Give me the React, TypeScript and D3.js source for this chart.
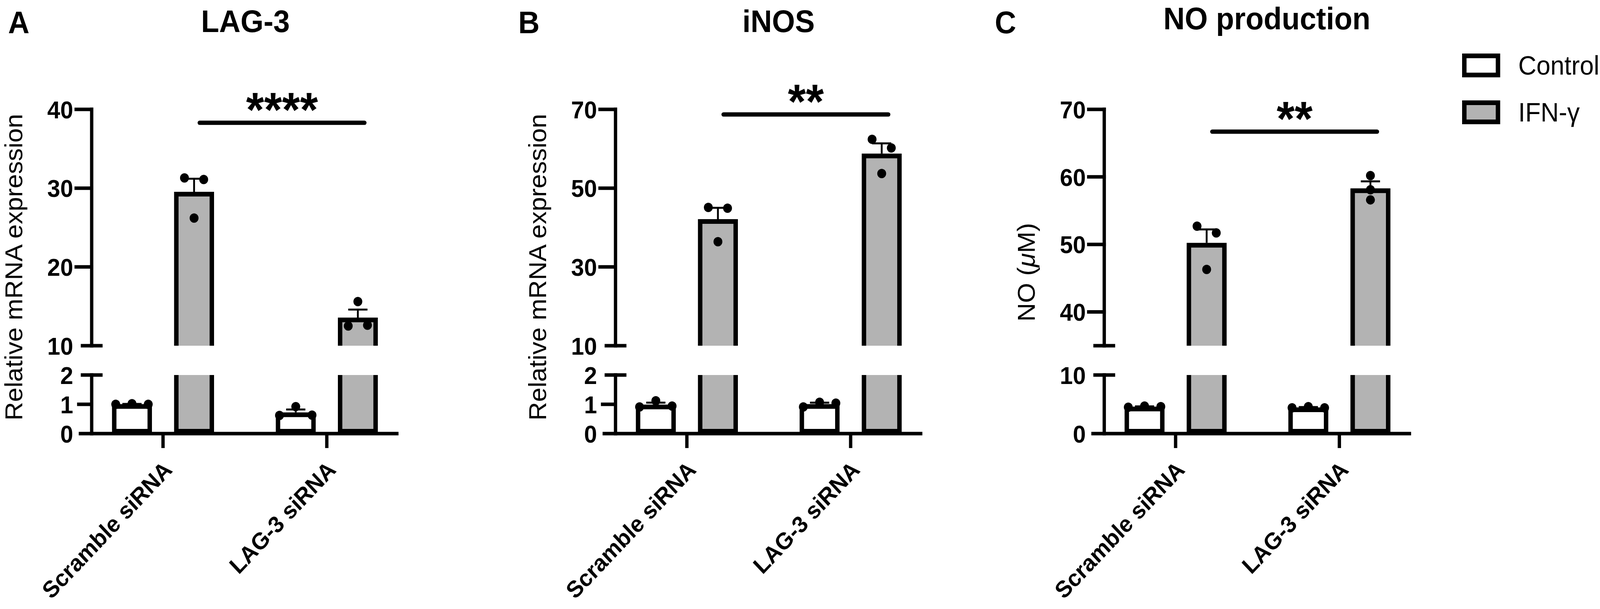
import React from 'react';
import * as d3 from 'd3';

const WIDTH = 4328;
const HEIGHT = 1559;
const FONT = '"Liberation Sans", Arial, Helvetica, sans-serif';

// rows of the layout (shared by all three panels)
const Y_ZERO = 1110;
const Y_LOW_TOP = 960;
const Y_UP_BOTTOM = 885;
const Y_UP_TOP = 280;

const BAR_STROKE = 12;
const AXIS_STROKE = 9;
const DOT_R = 12;

const GROUPS = ['Scramble siRNA', 'LAG-3 siRNA'];
const SERIES = ['Control', 'IFN-γ'];
const SERIES_FILL = ['#ffffff', '#b3b3b3'];

// panel A - LAG-3 (replicates, per group, per series)
const lagScrambleControl = [1.0, 1.02, 1.0];
const lagScrambleIfn = [31.3, 26.2, 31.1];
const lagSirnaControl = [0.62, 0.92, 0.63];
const lagSirnaIfn = [12.5, 15.6, 12.6];

// panel B - iNOS
const inosScrambleControl = [0.91, 1.12, 0.94];
const inosScrambleIfn = [45.1, 36.4, 44.9];
const inosSirnaControl = [0.91, 1.07, 1.04];
const inosSirnaIfn = [62.4, 53.7, 60.2];

// panel C - NO production
const noScrambleControl = [4.5, 4.7, 4.6];
const noScrambleIfn = [52.7, 46.3, 51.7];
const noSirnaControl = [4.4, 4.6, 4.4];
const noSirnaIfn = [60.2, 58.1, 56.6];

const PANEL_LETTERS = ['A', 'B', 'C'];
const TITLES = ['LAG-3', 'iNOS', 'NO production'];
const LOWER_DOMAINS = [[0, 2], [0, 2], [0, 10]];
const LOWER_TICKS = [[0, 1, 2], [0, 1, 2], [0, 10]];
const UPPER_DOMAINS = [[10, 40], [10, 70], [35, 70]];
const UPPER_TICKS = [[10, 20, 30, 40], [10, 30, 50, 70], [40, 50, 60, 70]];
const SIG_LEVELS = [38.3, 68.7, 66.7];
const SIG_LABELS = ['****', '**', '**'];

type Panel = {
  letter: string;
  title: string;
  yLabel: React.ReactNode;
  axisX: number;
  titleX: number;
  titleY: number;
  letterX: number;
  yLabelY: number;
  data: number[][][]; // [group][series][replicate]
  lower: number[];
  lowerTicks: number[];
  upper: number[];
  upperTicks: number[];
  sig: number;
  sigLabel: string;
};

const PANELS: Panel[] = [
  {
    letter: PANEL_LETTERS[0], title: TITLES[0], yLabel: 'Relative mRNA expression',
    axisX: 248, titleX: 664, titleY: 82, letterX: 22, yLabelY: 684,
    data: [[lagScrambleControl, lagScrambleIfn], [lagSirnaControl, lagSirnaIfn]],
    lower: LOWER_DOMAINS[0], lowerTicks: LOWER_TICKS[0], upper: UPPER_DOMAINS[0], upperTicks: UPPER_TICKS[0],
    sig: SIG_LEVELS[0], sigLabel: SIG_LABELS[0],
  },
  {
    letter: PANEL_LETTERS[1], title: TITLES[1], yLabel: 'Relative mRNA expression',
    axisX: 1665, titleX: 2106, titleY: 82, letterX: 1402, yLabelY: 684,
    data: [[inosScrambleControl, inosScrambleIfn], [inosSirnaControl, inosSirnaIfn]],
    lower: LOWER_DOMAINS[1], lowerTicks: LOWER_TICKS[1], upper: UPPER_DOMAINS[1], upperTicks: UPPER_TICKS[1],
    sig: SIG_LEVELS[1], sigLabel: SIG_LABELS[1],
  },
  {
    letter: PANEL_LETTERS[2], title: TITLES[2],
    yLabel: (<>NO (<tspan fontStyle="italic">μ</tspan>M)</>),
    axisX: 2987, titleX: 3427, titleY: 75, letterX: 2691, yLabelY: 697,
    data: [[noScrambleControl, noScrambleIfn], [noSirnaControl, noSirnaIfn]],
    lower: LOWER_DOMAINS[2], lowerTicks: LOWER_TICKS[2], upper: UPPER_DOMAINS[2], upperTicks: UPPER_TICKS[2],
    sig: SIG_LEVELS[2], sigLabel: SIG_LABELS[2],
  },
];

// spread points that would overlap vertically (GraphPad-like scatter)
function dodge(ys: number[]): number[] {
  const order = d3.range(ys.length).sort((a, b) => ys[a] - ys[b]);
  const clusters: number[][] = [];
  order.forEach((i, k) => {
    if (k > 0 && Math.abs(ys[i] - ys[order[k - 1]]) < DOT_R * 2) {
      clusters[clusters.length - 1].push(i);
    } else {
      clusters.push([i]);
    }
  });
  const offs = ys.map(() => 0);
  clusters.forEach((c) => {
    const members = c.slice().sort((a, b) => a - b);
    const gap = members.length === 2 ? 52 : 44;
    members.forEach((idx, j) => {
      offs[idx] = (j - (members.length - 1) / 2) * gap;
    });
  });
  return offs;
}

const PanelChart = ({ p }: { p: Panel }) => {
  const yLow = d3.scaleLinear().domain(p.lower).range([Y_ZERO, Y_LOW_TOP]);
  const yUp = d3.scaleLinear().domain(p.upper).range([Y_UP_BOTTOM, Y_UP_TOP]);
  const yOf = (v: number) => (v <= p.lower[1] ? yLow(v) : yUp(v));

  const xGroup = d3.scalePoint<string>().domain(GROUPS).range([p.axisX + 193, p.axisX + 636]);
  const xSeries = d3.scaleBand<string>().domain(SERIES).range([-138, 138]).paddingInner(0.357);
  const bw = xSeries.bandwidth();
  const h = BAR_STROKE / 2;

  const bars: React.ReactNode[] = [];
  const errs: React.ReactNode[] = [];
  const dots: React.ReactNode[] = [];

  GROUPS.forEach((g, gi) => {
    SERIES.forEach((s, si) => {
      const vals = p.data[gi][si];
      const mean = d3.mean(vals) as number;
      const sem = (d3.deviation(vals) as number) / Math.sqrt(vals.length);
      const x0 = (xGroup(g) as number) + (xSeries(s) as number);
      const cx = x0 + bw / 2;
      const key = `${gi}-${si}`;
      if (mean <= p.lower[1]) {
        const top = yLow(mean);
        bars.push(
          <rect key={key} x={x0 + h} y={top + h} width={bw - BAR_STROKE} height={Y_ZERO - top - BAR_STROKE}
            fill={SERIES_FILL[si]} stroke="#000" strokeWidth={BAR_STROKE} />
        );
      } else {
        const top = yUp(mean);
        bars.push(
          <g key={key}>
            <rect x={x0} y={Y_LOW_TOP} width={bw} height={Y_ZERO - Y_LOW_TOP} fill={SERIES_FILL[si]} />
            <path d={`M${x0 + h},${Y_LOW_TOP}V${Y_ZERO - h}H${x0 + bw - h}V${Y_LOW_TOP}`}
              fill="none" stroke="#000" strokeWidth={BAR_STROKE} />
            <rect x={x0} y={top} width={bw} height={Y_UP_BOTTOM - top} fill={SERIES_FILL[si]} />
            <path d={`M${x0 + h},${Y_UP_BOTTOM}V${top + h}H${x0 + bw - h}V${Y_UP_BOTTOM}`}
              fill="none" stroke="#000" strokeWidth={BAR_STROKE} />
          </g>
        );
      }
      const yTop = yOf(mean + sem);
      errs.push(
        <g key={key} stroke="#000" strokeWidth={5}>
          <line x1={cx} x2={cx} y1={yOf(mean)} y2={yTop} />
          <line x1={cx - 26} x2={cx + 26} y1={yTop} y2={yTop} />
        </g>
      );
      const ys = vals.map(yOf);
      const offs = dodge(ys);
      vals.forEach((v, k) => {
        dots.push(<circle key={`${key}-${k}`} cx={cx + offs[k]} cy={ys[k]} r={DOT_R} fill="#000" />);
      });
    });
  });

  const ifnX = GROUPS.map((g) => (xGroup(g) as number) + (xSeries(SERIES[1]) as number) + bw / 2);
  const sigY = yUp(p.sig);
  const sigX1 = ifnX[0] + 15;
  const sigX2 = ifnX[1] + 18;

  const ax = p.axisX;
  const xEnd = (xGroup(GROUPS[1]) as number) + 194;

  return (
    <g>
      <text x={p.letterX} y={85} fontFamily={FONT} fontWeight="bold" fontSize={80}>{p.letter}</text>
      <text x={p.titleX} y={p.titleY} fontFamily={FONT} fontWeight="bold" fontSize={80} textAnchor="middle">{p.title}</text>

      {bars}
      {errs}
      {dots}

      {/* broken y axis and the x axis */}
      <g stroke="#000" strokeWidth={AXIS_STROKE} strokeLinecap="square">
        <line x1={ax} x2={ax} y1={Y_UP_TOP} y2={Y_UP_BOTTOM} />
        <line x1={ax} x2={ax} y1={Y_LOW_TOP} y2={Y_ZERO} />
        <line x1={ax - 25} x2={ax + 25} y1={Y_UP_BOTTOM} y2={Y_UP_BOTTOM} />
        <line x1={ax - 25} x2={ax + 25} y1={Y_LOW_TOP} y2={Y_LOW_TOP} />
        {p.upperTicks.filter((t) => t !== p.upper[0]).map((t) => (
          <line key={`u${t}`} x1={ax - 42} x2={ax} y1={yUp(t)} y2={yUp(t)} />
        ))}
        {p.lowerTicks.filter((t) => t !== p.lower[1] && t !== p.lower[0]).map((t) => (
          <line key={`l${t}`} x1={ax - 35} x2={ax} y1={yLow(t)} y2={yLow(t)} />
        ))}
        <line x1={ax - 35} x2={xEnd} y1={Y_ZERO} y2={Y_ZERO} strokeLinecap="butt" />
        {GROUPS.map((g) => (
          <line key={g} x1={xGroup(g)} x2={xGroup(g)} y1={Y_ZERO} y2={Y_ZERO + 37} strokeLinecap="butt" />
        ))}
      </g>
      <g fontFamily={FONT} fontWeight="bold" fontSize={63} textAnchor="end">
        {p.upperTicks.map((t) => (
          <text key={`ut${t}`} x={ax - 50} y={yUp(t)} dy="0.36em">{t}</text>
        ))}
        {p.lowerTicks.map((t) => (
          <text key={`lt${t}`} x={ax - 50} y={yLow(t)} dy="0.36em">{t}</text>
        ))}
      </g>
      <text transform={`translate(${ax - 188},${p.yLabelY}) rotate(-90)`} fontFamily={FONT} fontSize={66} textAnchor="middle">
        {p.yLabel}
      </text>

      <g fontFamily={FONT} fontWeight="bold" fontSize={60} textAnchor="end">
        {GROUPS.map((g) => (
          <text key={g} transform={`translate(${(xGroup(g) as number) + 28},${Y_ZERO + 96}) rotate(-45)`}>{g}</text>
        ))}
      </g>

      <line x1={sigX1} x2={sigX2} y1={sigY} y2={sigY} stroke="#000" strokeWidth={11} strokeLinecap="round" />
      <text x={(sigX1 + sigX2) / 2} y={sigY + 10} fontFamily={FONT} fontWeight="bold" fontSize={125} textAnchor="middle">
        {p.sigLabel}
      </text>
    </g>
  );
};

const Legend = () => (
  <g fontFamily={FONT} fontSize={68}>
    {SERIES.map((s, i) => (
      <g key={s} transform={`translate(3955,${137 + i * 120})`}>
        <rect x={6} y={6} width={91} height={49} fill={SERIES_FILL[i]} stroke="#000" strokeWidth={12} />
        <text x={152} y={54}>{s}</text>
      </g>
    ))}
  </g>
);

// the browser viewport is narrower than the reference, so the drawing is fitted to it
export default function App() {
  return (
    <div style={{ position: 'fixed', left: 0, top: 0, width: '100vw', height: '100vh', overflow: 'hidden', background: '#fff' }}>
      <svg viewBox={`0 0 ${WIDTH} ${HEIGHT}`} preserveAspectRatio="none" width="100%" height="100%" style={{ display: 'block' }}>
        {PANELS.map((p) => (
          <PanelChart key={p.letter} p={p} />
        ))}
        <Legend />
      </svg>
    </div>
  );
}
